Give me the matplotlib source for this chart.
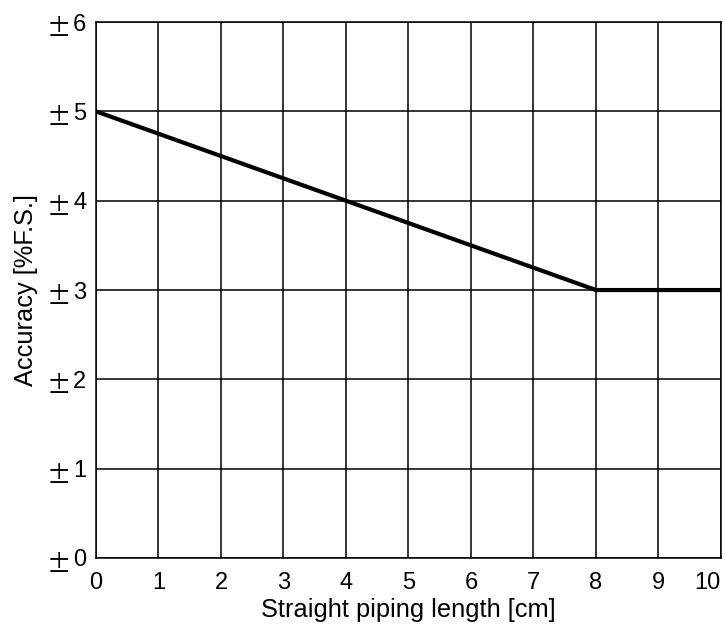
import matplotlib.pyplot as plt

plt.rcParams['font.family'] = ['Liberation Sans', 'DejaVu Sans']

# data
length_cm = [0, 8, 10]
accuracy = [5, 3, 3]
x_ticks = list(range(0, 11))
y_ticks = list(range(0, 7))

fig = plt.figure(figsize=(7.25, 6.29), dpi=100)
ax = fig.add_axes([0.1324, 0.1129, 0.862, 0.852])

ax.plot(length_cm, accuracy, color='black', linewidth=3.0, solid_capstyle='butt', zorder=3)

ax.set_xlim(0, 10)
ax.set_ylim(0, 6)
ax.set_xticks(x_ticks)
ax.set_yticks(y_ticks)
ax.set_yticklabels([str(v) for v in y_ticks])
ax.tick_params(length=0, labelsize=17)
ax.tick_params(axis='x', pad=10)
ax.tick_params(axis='y', pad=7)
# last x label sits inside the figure edge
ax.get_xticklabels()[-1].set_ha('right')
ax.get_xticklabels()[-1].set_x(10)

# the wide "±" in front of each y label
for v in y_ticks:
    ax.annotate('\u00b1', xy=(0, v), xycoords=('axes fraction', 'data'),
                xytext=(-27, -5), textcoords='offset points',
                ha='center', va='center', fontsize=17.5, family='Noto Sans CJK JP')

ax.grid(True, color='black', linewidth=1.1)
for s in ax.spines.values():
    s.set_linewidth(1.1)

ax.set_xlabel('Straight piping length [cm]', fontsize=18.3, labelpad=3)
ax.set_ylabel('Accuracy [%F.S.]', fontsize=18.3, labelpad=25)

fig.savefig('out.png', dpi=100)
